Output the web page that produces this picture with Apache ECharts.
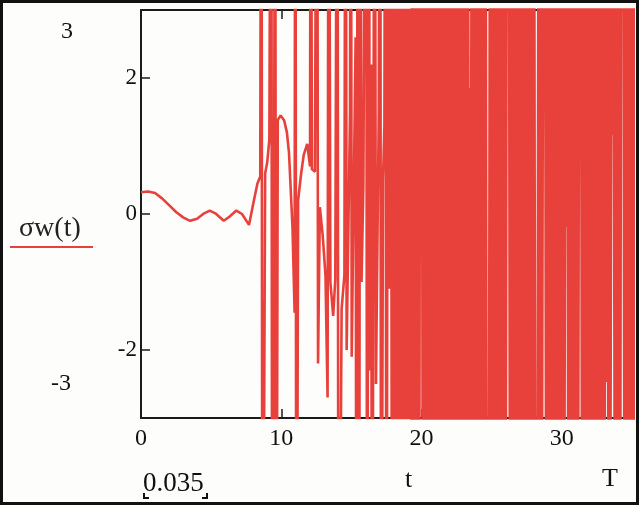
<!DOCTYPE html>
<html>
<head>
<meta charset="utf-8">
<script src="https://cdn.jsdelivr.net/npm/echarts@6/dist/echarts.min.js"></script>
<style>
html,body{margin:0;padding:0;background:#fdfdfc;}
#chart{width:640px;height:508px;}
</style>
</head>
<body>
<div id="chart"></div>
<script>
// calm start and the first big swings, t from 0 to ~19.3
var tEarly = [0, 0.5, 1.0, 1.5, 2.0, 2.5, 3.0, 3.5, 4.0, 4.5, 4.9, 5.3, 5.9, 6.3, 6.8, 7.2, 7.7, 8.0, 8.3, 8.5,
    8.58, 8.66, 8.85, 9.0, 9.15, 9.28, 9.36, 9.5, 9.56, 9.64, 9.75, 9.95, 10.2, 10.4, 10.55, 10.8, 10.95, 11.0, 11.08,
    11.2, 11.4, 11.6, 11.85, 12.05, 12.1, 12.18, 12.4, 12.55, 12.62, 12.75, 12.95, 13.15, 13.3, 13.38, 13.5, 13.7,
    13.85, 14.0, 14.08, 14.3, 14.5, 14.58, 14.66, 14.9, 14.95, 15.02, 15.3, 15.36, 15.45, 15.55, 15.62, 15.72, 15.85,
    16.05, 16.12, 16.25, 16.3, 16.4, 16.48, 16.65, 16.75, 16.95, 17.05, 17.12, 17.25, 17.35, 17.42, 17.5, 17.62,
    17.7, 17.8, 17.9, 18.02, 18.1, 18.3, 18.38, 18.5, 18.58, 18.72, 18.8, 18.95, 19.02, 19.15, 19.2, 19.28];
var wEarly = [0.32, 0.33, 0.31, 0.23, 0.13, 0.03, -0.05, -0.10, -0.07, 0.01, 0.05, 0.01, -0.10, -0.04, 0.05, 0.00, -0.16, 0.15, 0.45, 0.55,
    9, -9, 0.6, 0.76, 1.1, 9, -9, 1.25, 9, -9, 1.38, 1.45, 1.38, 1.2, 0.9, -0.2, -1.45, 9, -9,
    0.2, 0.57, 0.87, 1.03, 0.7, 9, 0.66, 0.62, 9, -2.2, 0.1, -0.31, -0.9, -2.7, 9, -1.0, -1.5,
    -0.96, 9, -9, -1.4, -0.9, 9, -2.0, 1.5, 9, -2.1, 2.6, -9, 9, -9, 9, -1.0, 0.4,
    9, -9, 9, -2.3, 2.2, -9, 9, -2.5, 1.5, 9, -9, 0.5, 1.3, 9, -9, 9,
    -1.1, 9, -9, 9, -9, 9, -9, 9, -9, 9, -9, 9, -9, 2.3, 9, -9];

// the dense burst, t from ~19.4 to the end
var tBurst = [19.36, 19.50, 19.64, 19.78, 19.91, 19.96, 20.01, 20.14, 20.29, 20.44, 20.59, 20.74, 20.89, 21.04,
    21.19, 21.34, 21.49, 21.64, 21.79, 21.94, 22.09, 22.24, 22.39, 22.54, 22.69, 22.84, 22.99, 23.14, 23.26,
    23.39, 23.44, 23.49, 23.62, 23.77, 23.92, 24.07, 24.22, 24.37, 24.52, 24.64, 24.80, 24.92, 25.05, 25.20,
    25.35, 25.50, 25.65, 25.80, 25.95, 26.07, 26.23, 26.35, 26.48, 26.63, 26.78, 26.93, 27.08, 27.23, 27.38,
    27.53, 27.68, 27.83, 27.98, 28.10, 28.26, 28.38, 28.51, 28.69, 28.74, 28.79, 28.94, 29.07, 29.22, 29.37,
    29.52, 29.67, 29.82, 29.97, 30.12, 30.27, 30.32, 30.37, 30.52, 30.65, 30.80, 30.95, 31.10, 31.25, 31.30,
    31.35, 31.50, 31.63, 31.78, 31.93, 32.08, 32.23, 32.38, 32.53, 32.68, 32.83, 32.98, 33.13, 33.18, 33.23,
    33.38, 33.58, 33.63, 33.68, 33.83, 33.96, 34.11, 34.23, 34.39, 34.51, 34.64, 34.79, 34.94, 35.09, 35.24];
var wBurst = [9, -9, 9, -9, 9, 1.6, 9, -9, 9, -9, 9, -9, 9, -9,
    9, -9, 9, -9, 9, -9, 9, -9, 9, -9, 9, -9, 9, -9, 9,
    -9, 1.85, -9, 9, -9, 9, -9, 9, -9, 9, -9, -9, 9, -9, 9,
    -9, 9, -9, 9, -9, 9, 9, -9, 9, -9, 9, -9, 9, -9, 9,
    -9, 9, -9, 9, -9, -9, 9, -9, 9, 2.63, 9, -9, 9, -9, 9,
    -9, 9, -9, 9, -9, 9, -0.19, 9, -9, 9, -9, 9, -9, 9, 2.16,
    9, -9, 9, -9, 9, -9, 9, -9, 9, -9, 9, -9, 9, -2.47, 9,
    -9, 9, 1.16, 9, -9, 9, -9, 9, 9, -9, 9, -9, 9, -9, 9];

var xTicks = [0, 10, 20, 30];
var yTicks = [-2, 0, 2];
var xMin = 0, xMax = 35;
var yMin = -3, yMax = 3;

var earlyPoints = [];
tEarly.forEach(function (t, i) { earlyPoints.push([t, wEarly[i]]); });
// burst continues from the last early sample
var burstPoints = [earlyPoints[earlyPoints.length - 1]];
tBurst.forEach(function (t, i) { burstPoints.push([t, wBurst[i]]); });

var serif = '"Liberation Serif", "DejaVu Serif", serif';
var red = '#e8413b';
var ink = '#1b1b1b';

function frameAxis(pos, ticks, withLabels, fontSize, margin) {
    return {
        type: 'value', position: pos,
        axisLine: {show: true, onZero: false, lineStyle: {color: ink, width: 2}},
        axisTick: {show: true, inside: true, length: 9, customValues: ticks, lineStyle: {color: ink, width: 1.5}},
        axisLabel: withLabels
            ? {customValues: ticks, fontFamily: serif, fontSize: fontSize, color: '#111', margin: margin}
            : {show: false},
        splitLine: {show: false}
    };
}

var xBottom = frameAxis('bottom', xTicks, true, 24, 9);
var xTop = frameAxis('top', xTicks, false);
var yLeft = frameAxis('left', yTicks, true, 23, 4);
var yRight = frameAxis('right', yTicks, false);
[xBottom, xTop].forEach(function (a) { a.min = xMin; a.max = xMax; });
[yLeft, yRight].forEach(function (a) { a.min = yMin; a.max = yMax; });

var myChart = echarts.init(document.getElementById('chart'));
var option = {
    backgroundColor: '#fdfdfc',
    animation: false,
    grid: {left: 141, right: 8, top: 10, bottom: 90},
    xAxis: [xBottom, xTop],
    yAxis: [yLeft, yRight],
    series: [
        {
            name: 'σw(t)',
            type: 'line',
            data: earlyPoints,
            showSymbol: false,
            clip: true,
            lineStyle: {color: red, width: 2.6}
        },
        {
            name: 'σw(t) burst',
            type: 'line',
            data: burstPoints,
            showSymbol: false,
            clip: true,
            lineStyle: {color: red, width: 3.3}
        }
    ],
    graphic: [
        {type: 'text', left: 61, top: 20, style: {text: '3', font: '24px ' + serif, fill: '#111'}},
        {type: 'text', left: 51, top: 372, style: {text: '-3', font: '24px ' + serif, fill: '#111'}},
        {type: 'text', left: 19, top: 215, style: {text: 'σw(t)', font: '28px ' + serif, fill: '#222'}},
        {type: 'line', shape: {x1: 10, y1: 247, x2: 93, y2: 247}, style: {stroke: red, lineWidth: 2}},
        {type: 'text', left: 143, top: 470, style: {text: '0.035', font: '27px ' + serif, fill: '#111'}},
        {type: 'polyline', shape: {points: [[144, 493], [144, 498], [149, 498]]}, style: {stroke: '#111', lineWidth: 2, fill: null}},
        {type: 'polyline', shape: {points: [[207, 493], [207, 498], [202, 498]]}, style: {stroke: '#111', lineWidth: 2, fill: null}},
        {type: 'text', left: 405, top: 467, style: {text: 't', font: '26px ' + serif, fill: '#111'}},
        {type: 'text', left: 602, top: 466, style: {text: 'T', font: '26px ' + serif, fill: '#111'}},
        {type: 'rect', shape: {x: 1.5, y: 1.5, width: 636, height: 502}, style: {stroke: '#111', lineWidth: 3, fill: null}, z: 100}
    ]
};
myChart.setOption(option);
</script>
</body>
</html>
